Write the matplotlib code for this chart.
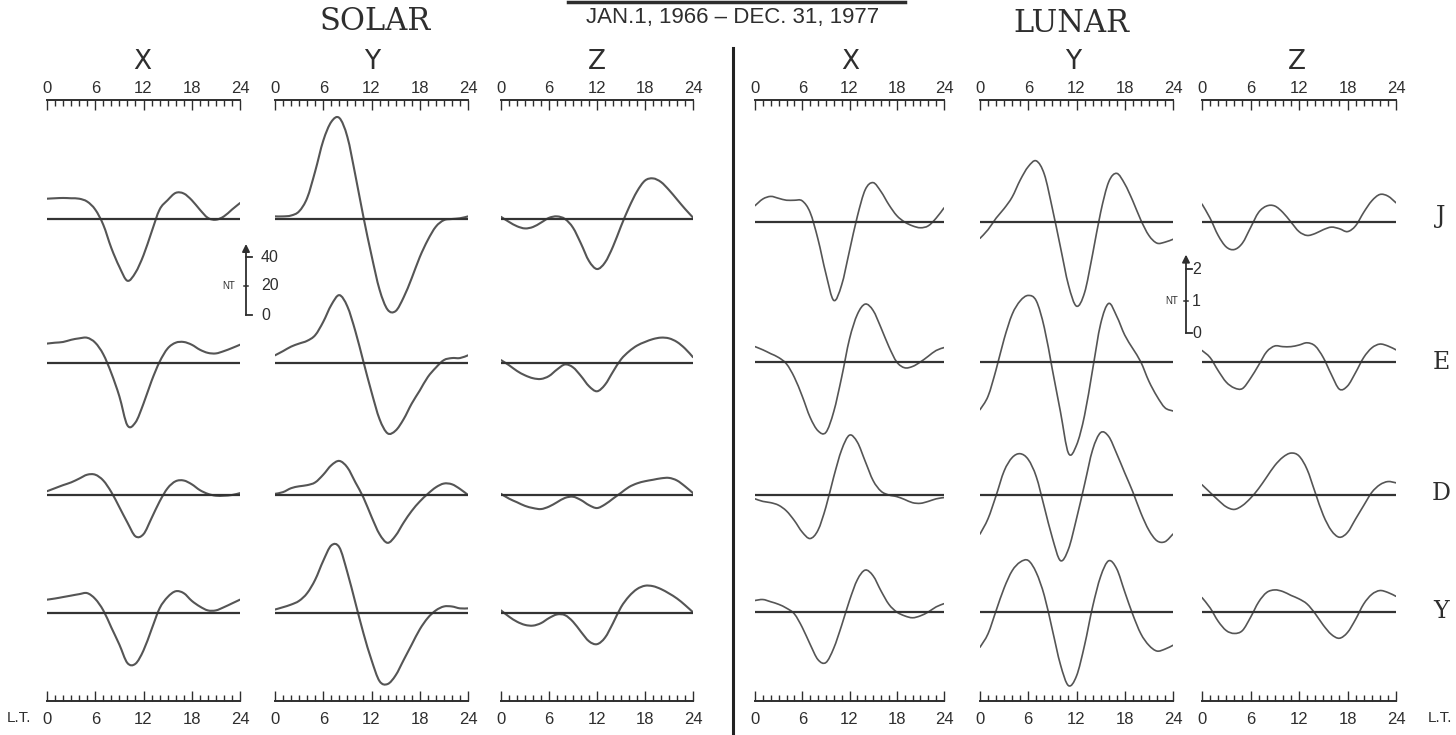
import matplotlib.pyplot as plt
import numpy as np
from matplotlib.lines import Line2D
from matplotlib.patches import PathPatch
from matplotlib.path import Path
from matplotlib.ticker import MultipleLocator

# Local time, hours
hours = list(range(25))

# Solar daily variation (nT), rows J, E, D, Y
sol_x_J = [14, 14.3, 14.5, 14.3, 14, 12, 6.5, -4, -20, -33, -42.6, -37, -25, -9, 6.5, 13, 18, 17.6, 13, 6.5, 0.8, -0.5, 1.8, 6.5, 11]
sol_x_E = [13.4, 14, 14.5, 16, 17, 17.4, 14, 6, -7, -23, -43, -41, -28, -12.4, 0.8, 10, 14, 14.5, 12.6, 9.2, 7, 6.6, 8.2, 10.3, 12.6]
sol_x_D = [2.6, 4.7, 6.8, 8.7, 11.3, 14, 14, 10, 2, -8.4, -19, -28.5, -27, -16, -4.5, 4.7, 9.5, 10, 7.4, 3.4, 0.8, -0.5, -0.5, 0, 1.3]
sol_x_Y = [9.2, 10, 11, 12, 13, 13.7, 9.7, 1.8, -10, -21.8, -34.5, -35, -25.8, -11.3, 3.2, 11, 15, 13.7, 8.4, 4.5, 1.8, 1.8, 4, 6.6, 9.2]

sol_y_J = [1.8, 1.8, 2.4, 5.3, 14.5, 33, 54, 67, 69.7, 56.6, 30, 1.3, -25, -48.7, -62.5, -63.5, -54, -40.8, -26.3, -14.5, -5.3, -0.8, 0, 0.5, 1.8]
sol_y_E = [5.3, 8.2, 11.3, 13.4, 15.3, 19.2, 28.4, 40, 46.8, 39, 21.8, 0.8, -20, -38.7, -48.5, -46.6, -38.7, -28, -19, -9.7, -3.2, 2, 3.4, 3.4, 5.3]
sol_y_D = [0.8, 2, 4.7, 6, 6.8, 8.7, 14, 20.5, 23.5, 19, 8.7, -1.8, -15, -27, -33, -28, -19, -11, -4.5, 0.8, 5.3, 7.9, 7.4, 4.2, 0]
sol_y_Y = [2.4, 4, 5.8, 8.4, 13.7, 23, 36, 46.6, 45.3, 28, 7, -14, -32.4, -47, -49, -43, -32.4, -21.8, -11.3, -3.4, 1.8, 4.5, 4.5, 3.2, 3.2]

sol_z_J = [1.5, -2, -5, -6.5, -5.5, -2.5, 0.8, 1.8, 0, -6, -17, -29, -34.5, -30, -19, -5, 8, 19, 26.5, 28, 25.5, 20, 13.5, 7, 1]
sol_z_E = [2, -1.5, -5.5, -8.5, -10.5, -11, -9, -4.5, -1, -3, -9, -16, -19.5, -15, -6, 2.5, 8, 12, 14.5, 16.5, 17.5, 17, 14.5, 10, 4]
sol_z_D = [0.8, -2.5, -5, -7.5, -9, -9.7, -8, -5, -2, -1.2, -3.5, -7, -9, -6.5, -2.5, 1.5, 5.5, 8, 9.5, 10.5, 11.5, 11.8, 10, 6, 1.3]
sol_z_Y = [1.8, -2.5, -6, -8.2, -8.7, -7, -3.5, -1, -1.5, -6, -13, -19.5, -21.5, -17, -7, 4, 11.5, 16.5, 18.8, 18.5, 16.5, 13.5, 10, 5.5, 0.5]

# Lunar daily variation (nT), rows J, E, D, Y
lun_x_J = [0.51, 0.72, 0.8, 0.74, 0.68, 0.68, 0.66, 0.3, -0.54, -1.61, -2.45, -1.97, -0.9, 0.18, 1.01, 1.23, 0.95, 0.54, 0.2, 0, -0.12, -0.18, -0.12, 0.12, 0.44]
lun_x_E = [0.48, 0.38, 0.26, 0.14, -0.06, -0.48, -1.07, -1.73, -2.15, -2.2, -1.55, -0.48, 0.72, 1.49, 1.81, 1.61, 1.07, 0.48, 0, -0.18, -0.14, 0, 0.18, 0.36, 0.45]
lun_x_D = [-0.12, -0.2, -0.24, -0.32, -0.5, -0.8, -1.16, -1.36, -1.1, -0.38, 0.57, 1.41, 1.87, 1.65, 1.05, 0.45, 0.12, 0, -0.05, -0.14, -0.24, -0.26, -0.2, -0.12, -0.08]
lun_x_Y = [0.36, 0.39, 0.32, 0.24, 0.12, -0.06, -0.48, -1.01, -1.49, -1.58, -1.13, -0.42, 0.36, 1.01, 1.31, 1.13, 0.66, 0.24, 0, -0.12, -0.18, -0.12, 0, 0.16, 0.26]

lun_y_J = [-0.51, -0.24, 0.12, 0.42, 0.78, 1.31, 1.73, 1.91, 1.49, 0.42, -0.78, -1.97, -2.63, -2.21, -1.01, 0.3, 1.25, 1.52, 1.19, 0.66, 0.06, -0.42, -0.66, -0.63, -0.54]
lun_y_E = [-1.49, -1.07, -0.24, 0.72, 1.49, 1.91, 2.08, 1.91, 1.07, -0.24, -1.55, -2.85, -2.6, -1.67, -0.24, 1.19, 1.83, 1.43, 0.84, 0.42, 0, -0.6, -1.07, -1.43, -1.53]
lun_y_D = [-1.22, -0.74, -0.02, 0.75, 1.17, 1.29, 1.11, 0.57, -0.38, -1.34, -2.05, -1.69, -0.74, 0.33, 1.41, 1.95, 1.83, 1.29, 0.69, 0.1, -0.56, -1.1, -1.43, -1.46, -1.22]
lun_y_Y = [-1.1, -0.68, 0.04, 0.75, 1.29, 1.56, 1.61, 1.23, 0.51, -0.56, -1.64, -2.3, -2.0, -1.04, 0.16, 1.11, 1.6, 1.35, 0.63, -0.08, -0.68, -1.04, -1.22, -1.16, -1.04]

lun_z_J = [0.56, 0.12, -0.42, -0.78, -0.86, -0.66, -0.18, 0.3, 0.5, 0.5, 0.3, 0, -0.3, -0.42, -0.36, -0.24, -0.16, -0.21, -0.3, -0.12, 0.3, 0.66, 0.86, 0.81, 0.6]
lun_z_E = [0.36, 0.14, -0.27, -0.63, -0.81, -0.83, -0.51, -0.1, 0.32, 0.5, 0.48, 0.48, 0.53, 0.6, 0.5, 0.14, -0.39, -0.85, -0.75, -0.33, 0.14, 0.44, 0.56, 0.5, 0.38]
lun_z_D = [0.32, 0.08, -0.16, -0.37, -0.45, -0.33, -0.1, 0.2, 0.56, 0.92, 1.18, 1.31, 1.22, 0.8, 0.08, -0.63, -1.11, -1.32, -1.17, -0.75, -0.33, 0.08, 0.32, 0.42, 0.38]
lun_z_Y = [0.45, 0.13, -0.29, -0.58, -0.67, -0.58, -0.17, 0.31, 0.61, 0.69, 0.64, 0.52, 0.41, 0.25, -0.05, -0.41, -0.7, -0.82, -0.64, -0.23, 0.25, 0.55, 0.67, 0.61, 0.49]

row_names = ["J", "E", "D", "Y"]
comp_names = ["X", "Y", "Z"]

W, H = 1456, 735
fig = plt.figure(figsize=(W / 100, H / 100), dpi=100)
fig.patch.set_facecolor("white")


def fx(px):
    return px / W


def fy(py):
    return 1 - py / H


INK = "#2e2e2e"
CURVE = "#555555"
AX_TOP, AX_BOT = 100, 701
TICKFONT = "Liberation Sans"


def smooth_line(ax, xs, ys, **kw):
    # Catmull-Rom curve through the hourly values, drawn as cubic Bezier pieces
    xs = np.asarray(xs, float)
    ys = np.asarray(ys, float)
    pts = np.column_stack([xs, ys])
    ext = np.vstack([pts[0], pts, pts[-1]])
    verts = [pts[0]]
    codes = [Path.MOVETO]
    for i in range(len(pts) - 1):
        p0, p1, p2, p3 = ext[i], ext[i + 1], ext[i + 2], ext[i + 3]
        verts += [p1 + (p2 - p0) / 6, p2 - (p3 - p1) / 6, p2]
        codes += [Path.CURVE4] * 3
    ax.add_patch(PathPatch(Path(verts, codes), fill=False, **kw))


# column layout: pixel span of 0..24 h, px per nT, row baselines (px)
columns = [
    (47, 240, 1.45, [219, 363, 495, 613], [sol_x_J, sol_x_E, sol_x_D, sol_x_Y]),
    (275, 468, 1.45, [219, 363, 495, 613], [sol_y_J, sol_y_E, sol_y_D, sol_y_Y]),
    (501, 693, 1.45, [219, 363, 495, 613], [sol_z_J, sol_z_E, sol_z_D, sol_z_Y]),
    (755, 944, 32.0, [222, 362, 495, 612], [lun_x_J, lun_x_E, lun_x_D, lun_x_Y]),
    (980, 1173, 32.0, [222, 362, 495, 612], [lun_y_J, lun_y_E, lun_y_D, lun_y_Y]),
    (1202, 1396, 32.0, [222, 362, 495, 612], [lun_z_J, lun_z_E, lun_z_D, lun_z_Y]),
]


def style_hour_axis(axis_owner, pad):
    axis_owner.set_xticks([0, 6, 12, 18, 24])
    axis_owner.xaxis.set_minor_locator(MultipleLocator(1))
    axis_owner.tick_params(axis="x", which="both", direction="in", color=INK,
                           width=1.0, labelcolor=INK, labelsize=12, pad=pad)
    axis_owner.tick_params(axis="x", which="major", length=7)
    axis_owner.tick_params(axis="x", which="minor", length=4.5)
    for lab in axis_owner.get_xticklabels():
        lab.set_family(TICKFONT)


axes = []
for k, (x0, x1, scale, bases, series) in enumerate(columns):
    ax = fig.add_axes([fx(x0), fy(AX_BOT), fx(x1) - fx(x0), (AX_BOT - AX_TOP) / H])
    ax.set_xlim(0, 24)
    ax.set_ylim(0, (AX_BOT - AX_TOP) / scale)
    ax.patch.set_alpha(0)
    for side in ("left", "right", "top"):
        ax.spines[side].set_visible(False)
    ax.spines["bottom"].set_linewidth(1.4)
    ax.spines["bottom"].set_color(INK)
    ax.set_yticks([])
    style_hour_axis(ax, pad=8)

    top = ax.secondary_xaxis("top")
    top.spines["top"].set_linewidth(1.4)
    top.spines["top"].set_color(INK)
    style_hour_axis(top, pad=3)

    lw_curve = 1.5 if k < 3 else 1.2
    for base, vals in zip(bases, series):
        off = (AX_BOT - base) / scale
        ax.plot([0, 24], [off, off], color="#333333", lw=1.6, solid_capstyle="butt")
        smooth_line(ax, hours, off + np.array(vals), edgecolor=CURVE, lw=lw_curve,
                    joinstyle="round", capstyle="round")
    axes.append(ax)


def scale_bar(ax, col, px_x, px_zero, ticks, top_val, label_px, nt_px):
    x0, x1, scale, _, _ = col
    hpp = 24 / (x1 - x0)
    xb = (px_x - x0) * hpp
    y0 = (AX_BOT - px_zero) / scale
    tick = 6 * hpp
    ax.annotate("", xy=(xb, y0 + top_val), xytext=(xb, y0),
                arrowprops=dict(arrowstyle="-|>", lw=1.3, color=INK,
                                mutation_scale=11, shrinkA=0, shrinkB=0),
                annotation_clip=False)
    for i, t in enumerate(ticks):
        if i == 1:
            ax.plot([xb - tick * 0.4, xb + tick * 0.4], [y0 + t] * 2, color=INK,
                    lw=1.1, clip_on=False)
        else:
            ax.plot([xb, xb + tick], [y0 + t] * 2, color=INK, lw=1.3, clip_on=False)
        ax.text((label_px - x0) * hpp, y0 + t, f"{t:g}", ha="left", va="center",
                fontsize=11.5, color=INK, family=TICKFONT, clip_on=False)
    ax.text((nt_px - x0) * hpp, y0 + ticks[1], "NT", ha="center", va="center",
            fontsize=7, color=INK, family=TICKFONT, clip_on=False)


scale_bar(axes[0], columns[0], 246, 315, [0, 20, 40], 49, 261, 229)
scale_bar(axes[4], columns[4], 1186, 333, [0, 1, 2], 2.45, 1192, 1172)

# headings
serif = "DejaVu Serif"
fig.text(fx(375), fy(22), "SOLAR", ha="center", va="center", fontsize=22,
         family=serif, color=INK)
fig.text(fx(1071), fy(23), "LUNAR", ha="center", va="center", fontsize=22,
         family=serif, color=INK)
fig.text(fx(733), fy(17), "JAN.1, 1966 – DEC. 31, 1977", ha="center", va="center",
         fontsize=16, family=TICKFONT, color=INK)
fig.add_artist(Line2D([fx(568), fx(905)], [fy(1.5), fy(1.5)], lw=2.5, color=INK))

col_centers = [142, 372, 597, 850, 1073, 1297]
for cx, name in zip(col_centers, comp_names * 2):
    fig.text(fx(cx), fy(62), name, ha="center", va="center", fontsize=19,
             family="DejaVu Sans", color=INK)

for py, name in zip([217, 363, 494, 612], row_names):
    fig.text(fx(1441), fy(py), name, ha="center", va="center", fontsize=17,
             family=serif, color=INK)

fig.text(fx(7), fy(718), "L.T.", ha="left", va="center", fontsize=11,
         family=TICKFONT, color=INK)
fig.text(fx(1428), fy(718), "L.T.", ha="left", va="center", fontsize=11,
         family=TICKFONT, color=INK)

# divider between solar and lunar panels
fig.add_artist(Line2D([fx(733), fx(733)], [fy(48), fy(735)], lw=2.2, color="#222222"))

fig.savefig("out.png", dpi=100, facecolor="white")
